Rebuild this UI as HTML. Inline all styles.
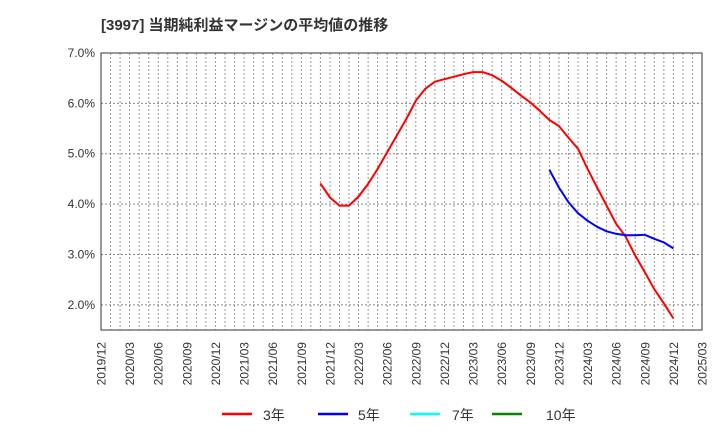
<!DOCTYPE html>
<html><head><meta charset="utf-8"><style>
body{margin:0;background:#fff;}
svg{display:block;font-family:"Liberation Sans","Noto Sans CJK JP",sans-serif;}
</style></head><body>
<svg id="chart" width="720" height="440" viewBox="0 0 720 440">
<rect width="720" height="440" fill="#fff"/>
<text x="101" y="30" font-size="15" font-weight="700" fill="#333">[3997]  当期純利益マージンの平均値の推移</text>
<g id="grid"></g>
<g id="yticks"></g>
<g id="xticks"></g>
<g id="series"></g>
<rect x="101" y="53" width="601" height="277" fill="none" stroke="#333" stroke-width="1"/>
<g>
<g><line x1="222" y1="414" x2="252" y2="414" stroke="#f00" stroke-width="2.5"/><text x="263" y="420" font-size="14" fill="#333">3年</text></g>
<g><line x1="318" y1="414" x2="348" y2="414" stroke="#00f" stroke-width="2.5"/><text x="358" y="420" font-size="14" fill="#333">5年</text></g>
<g><line x1="410" y1="414" x2="440" y2="414" stroke="#0ff" stroke-width="2.5"/><text x="452" y="420" font-size="14" fill="#333">7年</text></g>
<g><line x1="492" y1="414" x2="522" y2="414" stroke="#080" stroke-width="2.5"/><text x="546" y="420" font-size="14" fill="#333">10年</text></g>
</g>
</svg>
<script>
const xTickLabels=["2019/12","2020/03","2020/06","2020/09","2020/12","2021/03","2021/06","2021/09","2021/12","2022/03","2022/06","2022/09","2022/12","2023/03","2023/06","2023/09","2023/12","2024/03","2024/06","2024/09","2024/12","2025/03"];
const yTickValues=[2,3,4,5,6,7];
const series3Start=23; // months after 2019/12 (2021/11)
const series3=[4.41,4.13,3.97,3.97,4.15,4.40,4.70,5.03,5.36,5.69,6.05,6.29,6.43,6.48,6.53,6.58,6.62,6.62,6.56,6.45,6.31,6.16,6.02,5.85,5.67,5.55,5.32,5.10,4.70,4.33,3.97,3.61,3.35,2.98,2.65,2.31,2.03,1.73];
const series5Start=47; // 2023/11
const series5=[4.68,4.33,4.04,3.82,3.67,3.55,3.46,3.41,3.38,3.38,3.39,3.31,3.24,3.12];
const X0=101,X1=702,Y0=53,Y1=330,MONTHS=63,YMIN=1.5,YMAX=7;
const xs=m=>X0+(X1-X0)*m/MONTHS;
const ys=v=>Y1-(Y1-Y0)*(v-YMIN)/(YMAX-YMIN);
const NS="http://www.w3.org/2000/svg";
function mk(tag,attrs,parent){const e=document.createElementNS(NS,tag);for(const k in attrs)e.setAttribute(k,attrs[k]);parent.appendChild(e);return e;}
const grid=document.getElementById('grid');
for(let m=1;m<MONTHS;m++){
 const l=mk('line',{x1:xs(m),x2:xs(m),y1:Y0,y2:Y1,stroke:'#999','stroke-width':1,'stroke-dasharray':'2,2'},grid);
 
 
}
const yt=document.getElementById('yticks');
yTickValues.forEach(v=>{
 if(v<YMAX){const l=mk('line',{x1:X0,x2:X1,y1:ys(v),y2:ys(v),stroke:'#888','stroke-width':1,'stroke-dasharray':'2,2'},grid);
 
 }
 const t=mk('text',{x:X0-6,y:ys(v)+4,'font-size':12,fill:'#333','text-anchor':'end'},yt);
 t.textContent=v.toFixed(1)+'%';
 
 
});
const xt=document.getElementById('xticks');
xTickLabels.forEach((s,i)=>{
 const x=xs(i*3);
 const t=mk('text',{x:0,y:0,'font-size':12,fill:'#333','text-anchor':'end',transform:`translate(${x+4.5},342) rotate(-90)`},xt);
 t.textContent=s;
 
 
});
const sg=document.getElementById('series');
function drawLine(data,start,color,name){
 const pts=data.map((v,i)=>xs(start+i).toFixed(1)+','+ys(v).toFixed(1)).join(' ');
 const p=mk('polyline',{points:pts,fill:'none',stroke:color,'stroke-width':2,'stroke-linejoin':'round'},sg);
 
 
}
drawLine(series3,series3Start,'#f00','line-3y');
drawLine(series5,series5Start,'#00f','line-5y');
</script>
</body></html>
